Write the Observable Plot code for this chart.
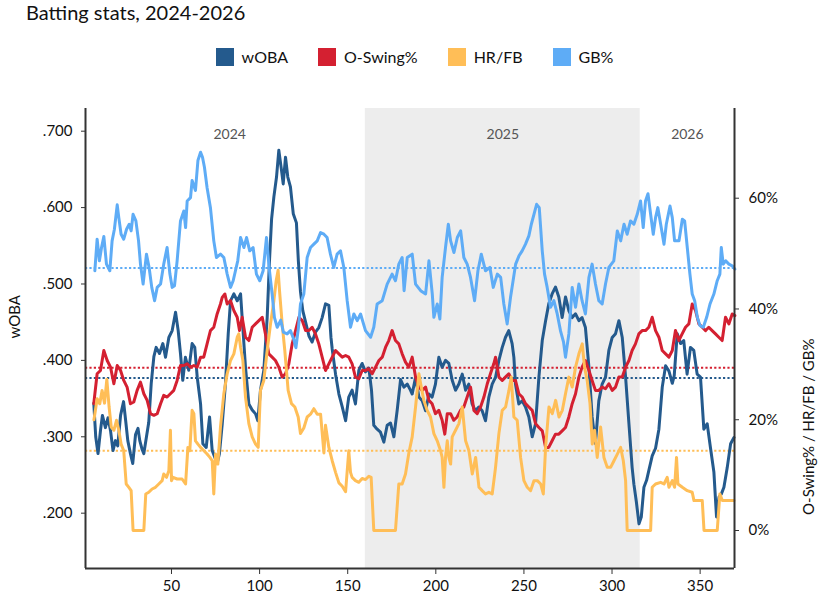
<!DOCTYPE html>
<html><head><meta charset="utf-8">
<script src="https://cdn.jsdelivr.net/npm/d3@7"></script>
<script src="https://cdn.jsdelivr.net/npm/@observablehq/plot@0.6"></script>
<style>
body{margin:0;background:#fff;font-family:Lato,sans-serif;width:826px;}
#title{position:relative;height:30px;}
#title span{position:absolute;left:26px;top:2px;font-size:20px;line-height:20px;color:#111;white-space:nowrap}
#legend{position:relative;height:50px;}
#legend .row{position:absolute;left:0;right:0;top:17.7px;display:flex;justify-content:center;gap:30px;padding-left:3px}
.item{display:flex;align-items:center;gap:8px;font-size:16px;line-height:18px;color:#111}
.sw{width:18px;height:18px;display:inline-block}
</style></head><body>
<div id="title"><span>Batting stats, 2024-2026</span></div>
<div id="legend"><div class="row" id="legendRow"></div></div>
<div id="chart"></div>
<script>
// ---------- data ----------
const seriesNames = ["wOBA", "O-Swing%", "HR/FB", "GB%"];
const seriesColors = ["#245a8d", "#d42031", "#ffbe57", "#5eacf6"];

const seasons = ["2024", "2025", "2026"];
const seasonStart = [6, 160, 316];
const seasonEnd = [160, 316, 369.5];
const shadedSeasons = ["2025"];

const xDomain = [1.2, 369.5];
const yDomain = [0.1276, 0.7297];      // wOBA (left axis)
const pctDomain = [-6.86, 76.2];       // percent (right axis)
const xTicks = [50, 100, 150, 200, 250, 300, 350];
const wobaTicks = [0.2, 0.3, 0.4, 0.5, 0.6, 0.7];
const pctTicks = [0, 20, 40, 60];

const wobaAvg = 0.377;
const oswingAvg = 29.4;
const hrfbAvg = 14.4;
const gbAvg = 47.4;

const woba = [[5.9,.344],[7,.300],[8.3,.278],[9.7,.308],[10.8,.328],[12.5,.312],[14,.325],[15.4,.308],[16.8,.282],[18.2,.295],[19.5,.288],[21.1,.328],[22.8,.346],[24,.321],[25.2,.295],[26.7,.278],[28,.265],[29.6,.303],[31,.311],[32,.295],[33.4,.283],[34.3,.278],[35.8,.300],[37.1,.319],[38.5,.370],[40,.405],[41.3,.417],[43.2,.409],[45.1,.422],[46.6,.404],[48.5,.430],[50.4,.439],[52.3,.463],[53.8,.439],[55.1,.409],[56.4,.374],[57.9,.404],[59.8,.387],[61.7,.422],[63.2,.417],[64.6,.378],[66.5,.343],[67.8,.291],[69.7,.286],[71.6,.326],[73.1,.282],[74.6,.273],[75.9,.265],[77.2,.278],[78.8,.317],[80.6,.369],[82.2,.435],[83.5,.478],[85.4,.487],[87.3,.478],[89.2,.487],[90.1,.456],[92,.391],[93.9,.343],[95.8,.335],[97.7,.330],[99,.321],[100.5,.361],[102.4,.387],[104.3,.456],[105.6,.530],[106.8,.585],[108.1,.614],[109.6,.640],[110.9,.675],[112.2,.653],[113.4,.631],[114.7,.666],[116,.640],[117.5,.627],[119.1,.592],[120.9,.580],[122,.530],[123.2,.490],[124.5,.465],[126.1,.450],[128,.432],[129.8,.424],[131.7,.437],[133.6,.443],[135.5,.456],[137.4,.474],[139.3,.472],[140.5,.430],[141.2,.415],[143.1,.382],[145,.356],[146.9,.339],[148.8,.321],[150.6,.352],[152.5,.361],[154.4,.343],[156.3,.387],[158.2,.396],[160.1,.385],[162,.390],[163.5,.361],[164.8,.315],[166.7,.310],[168.6,.306],[170.5,.293],[172.4,.315],[174.3,.318],[176.2,.300],[178.1,.335],[180,.375],[181.9,.365],[183.8,.369],[185.6,.361],[186.6,.356],[188.5,.378],[190.4,.352],[192.3,.347],[194.2,.334],[196.1,.356],[197.9,.352],[199.8,.369],[201.7,.404],[203.6,.391],[205.5,.400],[207.4,.396],[209.3,.374],[211.2,.361],[213.1,.369],[215,.382],[216.9,.361],[218.7,.369],[220.6,.343],[222.5,.334],[224.4,.339],[226.3,.334],[228.2,.321],[230.1,.352],[232,.369],[233.9,.378],[235.8,.400],[237.7,.417],[239.5,.430],[241.4,.439],[243.3,.422],[244.3,.404],[245.2,.369],[247.1,.343],[249,.347],[250.9,.339],[252.8,.326],[254.7,.300],[256.6,.317],[258.5,.378],[260.4,.426],[262.3,.452],[264.1,.474],[266,.487],[267.9,.496],[269.8,.483],[271.7,.456],[273.6,.483],[275.5,.465],[277.4,.456],[279.3,.461],[281.2,.452],[283,.456],[284.9,.443],[286.9,.391],[288.7,.326],[290.6,.291],[292.5,.347],[294.4,.369],[296.3,.378],[298.2,.413],[300.1,.430],[302,.435],[303.9,.452],[305.8,.430],[307.7,.378],[309.6,.317],[311.4,.260],[312.4,.238],[313.8,.215],[315.3,.186],[316.6,.195],[318.1,.234],[319.6,.243],[320.9,.256],[322.8,.275],[324.7,.285],[326.6,.310],[328.5,.365],[330.4,.393],[332.3,.386],[334.2,.370],[335.3,.380],[337,.435],[338.9,.422],[340.7,.426],[342.6,.382],[344.5,.417],[346.4,.413],[348.3,.382],[350.2,.378],[352.1,.310],[354,.317],[355.9,.285],[357.8,.254],[359.3,.195],[360.7,.221],[362,.225],[363.5,.234],[365.4,.260],[367.3,.291],[369.2,.299]];

const oswing = [[5.9,22.9],[7.8,28.3],[9.7,28.9],[11.6,32.5],[13.5,30.7],[15.4,29.5],[17.3,26.5],[19.2,29.8],[21.1,28.9],[22.9,27.1],[24.8,25.9],[26.7,22.9],[28.6,23.2],[30.5,25.3],[32.4,26.8],[34.3,24.7],[36.2,23.5],[38.1,21.1],[40,20.8],[41.9,21.1],[43.8,22.9],[45.6,24.4],[47.5,24.1],[49.4,24.7],[51.3,25.3],[53.2,27.1],[55.1,29.8],[57,29.8],[58.9,30.1],[60.8,29.5],[62.7,29.8],[64.6,29.5],[66.5,31.3],[68.3,31.3],[70.2,33.7],[72.1,36.1],[74,36.7],[75.9,39.1],[77.8,40.9],[78.8,42.1],[80.3,42.7],[81.6,40.9],[83.5,41.5],[85.4,39.7],[87.3,38.5],[88.6,36.1],[90.1,38.5],[92,34.9],[93.9,34.3],[95.8,36.7],[97.7,37.3],[99.6,37.9],[101.5,38.5],[103.3,35.5],[105.2,31.9],[107.1,31.3],[109,30.7],[110.9,29.5],[112.8,27.7],[114.7,28.3],[116.6,30.1],[118.5,33.7],[120.4,36.1],[122.3,38.5],[124.2,37.9],[126.1,36.1],[128,36.1],[129.8,36.7],[131.7,35.5],[133.6,33.7],[135.5,31.3],[137.4,28.9],[139.3,30.1],[141.2,31.3],[143.1,32.5],[145,31.9],[146.9,31.3],[148.8,31.6],[150.6,31.3],[152.5,30.1],[154.4,27.7],[156.3,27.4],[158.2,28.9],[160.1,28.9],[162,29.2],[163.9,28.3],[165.8,29.5],[167.7,30.7],[169.6,31.3],[171.5,33.1],[173.3,34.3],[175.2,36.1],[177.1,34.3],[179,33.7],[180.9,31.9],[182.8,30.4],[184.7,29.5],[186.6,31.3],[188.5,27.7],[190.4,25.9],[192.3,25.3],[194.2,25.9],[196.1,23.5],[197.9,22.9],[199.8,21.1],[201.7,21.7],[203.6,19.9],[205.1,17.4],[206.5,21.1],[208.4,21.1],[210.2,19.9],[212.1,20.5],[214,21.7],[215.9,22.3],[217.8,24.1],[219.7,25.9],[221.6,21.7],[223.5,21.1],[225.4,22.3],[227.3,24.1],[229.2,26.5],[231,28.3],[232.9,30.1],[233.9,31.3],[235.8,27.7],[237.7,27.1],[239.5,27.7],[241.4,28.3],[243.3,27.1],[245.2,27.1],[247.1,24.7],[249,24.1],[250.9,22.9],[252.8,22.3],[254.7,21.7],[256.6,19.3],[258.5,18.6],[260.4,18],[262.3,15],[264.1,15],[266,16.2],[267.9,17.4],[269.8,17.4],[271.7,18],[273.6,18.6],[275.5,20.5],[277.4,22.9],[279.3,24.7],[281.2,27.7],[283,29.5],[284.9,30.7],[286.9,28.9],[288.7,27.1],[290.6,25.3],[292.5,25.3],[294.4,25.9],[296.3,25.6],[298.2,26.5],[300.1,25.3],[302,25.9],[303.9,27.7],[305.8,27.7],[307.7,29.5],[309.6,30.7],[311.4,32.5],[313.3,33.7],[315.2,35.5],[317.1,36.1],[319,36.1],[320.9,36.7],[322.8,38.5],[324.7,36.1],[326.6,34.9],[328.5,32.5],[330.4,31.9],[332.3,31.3],[334.2,32.5],[336,36.1],[337.9,34.3],[339.8,35.5],[341.7,36.7],[343.6,37.3],[345.5,40.9],[347.4,39.7],[349.3,37.3],[351.2,36.7],[353.1,36.1],[354.9,36.7],[356.8,36.1],[358.7,35.5],[360.6,34.9],[362.5,34.3],[364.4,38.5],[366.3,37.3],[368.2,39.1],[369.7,38.8]];

const hrfb = [[6,20],[7.8,23.8],[9.3,22.9],[10.6,25.3],[12,23],[13.3,27.3],[14.6,22.3],[15.8,18.7],[17.3,18.1],[18.8,19.9],[20.1,18.1],[21.4,15.6],[22.9,14.4],[24.3,8.4],[25.8,7.8],[27.1,7.2],[28.2,0],[34.3,0],[35.4,6.6],[37.1,6.9],[39,7.5],[40.9,7.8],[42.8,8.4],[44.7,9],[45.6,10.2],[47.2,9.6],[48.5,10.8],[49.4,18.1],[50,9],[50.9,9.6],[53.2,9.3],[56,9.3],[58,8.4],[59.3,15],[60.4,14.4],[61.7,21.7],[62.7,21.1],[63.6,16.2],[65,15.6],[66.5,15],[68.4,14.4],[70.2,13.8],[71.8,13.2],[73.1,12.6],[74,6.6],[75,13.8],[76.3,12],[77.8,18.7],[79.7,24.7],[81.6,28.3],[83.5,30.7],[85.4,31.9],[87.3,34.9],[88.2,35.5],[89.2,33.1],[90.5,30.7],[92,24.1],[93.9,19.3],[95.8,16.9],[97.7,15.6],[99.2,15],[100.5,25.3],[102.4,27.1],[104.3,32.5],[106.2,37.3],[108.1,41.5],[109.4,45.1],[110.5,47],[111.3,43.3],[112.8,37.3],[114.3,32.5],[116.2,25.3],[118.1,22.9],[120,22.3],[121.9,20.5],[123.2,17.5],[125.1,18.5],[127,20.5],[128.9,21],[130.8,22],[132.7,21],[134.6,21],[136.5,14],[137.4,19],[139.3,15],[141.2,12.6],[143.1,10.5],[145,8.6],[146.9,8],[148.8,7],[150.6,14.4],[151.6,10.5],[152.5,9.6],[154.4,9],[156.3,8.7],[158.2,9.4],[160.1,9.2],[162,9.8],[163.3,9.6],[164.8,0],[177.1,0],[179,8.4],[180.9,8.4],[182.8,10.2],[184.7,14],[186.6,16.9],[188.5,22.3],[190.4,28.3],[191.4,26.5],[193.2,23.5],[195.1,21.7],[197,20.5],[198.9,17.5],[200.8,16.2],[202.7,14.4],[203.6,13.2],[204.6,7.8],[205.5,13.2],[206.5,16.2],[207.4,13.2],[208.4,12],[209.3,16.9],[211.2,18.1],[213.1,19.3],[215,22.3],[216.9,16.2],[218.8,14.4],[220.7,10.2],[222.6,13.2],[224.5,7.8],[226.3,7.2],[228.2,6.6],[230.1,6.9],[232,6.6],[233.9,11.4],[235.8,17.5],[237.7,21.7],[239.6,22.3],[241.5,25.3],[242.8,27.7],[244.3,20.5],[246.2,19.9],[248.1,13.2],[250,9],[251.9,7.8],[253.8,7.2],[255.7,9],[257.6,9],[259.5,8.4],[261,6.6],[262.3,15],[264.2,22.3],[266.1,21.1],[268,23.5],[269.9,20.5],[271.8,21.7],[273.6,24.7],[275.5,27.7],[277.4,25.9],[279.3,29.5],[281.2,31.9],[283.1,33.7],[284.4,29.5],[285.9,27.1],[287.5,22.9],[288.8,15.6],[290.1,18.1],[291.6,13.2],[293.5,18.7],[295.4,13.2],[297.3,11.4],[299.2,11.4],[301.1,12.6],[303,13.8],[304.9,15],[306.4,12.6],[307.7,9],[308.6,0],[321.9,0],[322.8,7.8],[324.7,8.4],[327.6,8.7],[329.5,8.4],[331.3,9.6],[332.3,7.8],[334.2,9],[335.5,7.8],[336.6,13.2],[337.4,8.4],[339.9,7.8],[342.7,7.2],[345.5,6.9],[346.5,5.4],[351.2,5.4],[352.2,0],[359.7,0],[361.2,6.6],[362.6,5.4],[369.2,5.4]];

const gb = [[6.5,46.9],[7.8,52.6],[9.1,48.7],[10.3,51.1],[11.6,53.1],[13.1,48.1],[15,46.9],[16.3,52.3],[17.6,54.4],[19.2,58.8],[20.1,56.5],[21.4,53.5],[22.9,52.6],[24.5,54.4],[26,55.3],[27.1,54.1],[28.2,57.1],[29.8,55.9],[31.3,52.3],[32.4,48.1],[33.9,44.5],[35.8,49.9],[37.3,47.5],[38.8,43.9],[40.4,41.5],[41.9,43.9],[43.8,44.5],[45.6,48.1],[47.5,51.1],[49.1,46.3],[50.4,43.9],[51.7,44.2],[53.2,48.7],[55.1,55.9],[57,57.7],[58,54.7],[58.9,59.5],[60.8,60.1],[61.7,63.2],[63.6,61.4],[65,66.8],[66.5,68.3],[67.6,67.4],[68.7,65.6],[70.2,61.9],[72.1,58.3],[74,52.3],[75.5,49.3],[77.8,49.9],[79.7,49.3],[81.6,46.3],[83.5,43.9],[85,45.1],[86.3,46.9],[87.6,48.7],[89.2,52.9],[91.1,51.1],[92.6,52.9],[94.4,50.5],[96.3,51.1],[98.2,46.3],[100.1,45.1],[102,46.9],[103.9,52.9],[105.4,47.5],[107.1,42.7],[108.4,38.5],[110,36.7],[112,38],[113.5,35.8],[115.6,35.5],[117.5,36.1],[119.4,34.5],[120.6,33],[122,36.5],[123.2,40.9],[125.1,42.7],[127,49.3],[128.9,51.1],[130.8,51.7],[132.7,52.3],[134.6,53.8],[136.5,53.5],[138.3,52.9],[140.2,49.9],[142.1,47.5],[144,49.9],[145.9,50.5],[147.8,47.5],[149.7,41.5],[151.6,36.7],[153.5,39.1],[155.4,37.9],[157.3,39.1],[160.1,36.1],[163,34.9],[164.8,36.7],[166.7,40.9],[169.6,41.5],[172.4,44.5],[175.2,46.3],[177.1,45.1],[179,48.1],[180.9,49.3],[182,43.3],[183.8,49.3],[186.6,49.9],[188.5,44.5],[191.4,43.3],[194.2,42.7],[196.1,48.7],[198,42.7],[198.9,38.5],[200.8,40.9],[202.3,38.2],[203.6,45.7],[205.5,51.1],[207.1,55.3],[208.4,52.3],[210.3,50.2],[212.2,52.9],[214.1,54.1],[215.9,49.3],[217.8,48.1],[219.7,45.7],[222,41.5],[223.9,46.9],[225.8,49.9],[228.2,46.9],[230.7,47.5],[232.6,43.9],[234.9,46.3],[236.8,45.7],[238.6,40.9],[240.5,37.3],[242.4,42.1],[245.3,48.1],[247.2,49.6],[249,50.5],[250.9,51.7],[252.8,53.2],[254.2,55.3],[255.7,57.1],[257.2,58.9],[258.7,58.3],[260.4,50.5],[261.7,46.3],[263.2,43.9],[265.1,40.3],[267,41.5],[268.9,39.1],[270.8,36],[272.5,34],[273.6,31.3],[275.5,35.5],[277.4,43.9],[279.3,40.3],[281.2,44.5],[283,41.5],[284.9,39.1],[286.9,45.7],[288.7,48.1],[290.6,44.5],[292.5,41.5],[294.4,40.9],[296.3,44.5],[298.2,47.5],[301,48.7],[303,54.1],[304.9,52.3],[306.8,55.3],[308.6,53.5],[310.5,55.9],[312.4,55.3],[314.3,57.1],[316.2,59.5],[317.7,54.7],[319,59.5],[320.4,60.8],[321.9,57.1],[323.4,53.5],[324.7,56.5],[326,58.3],[327.6,55.3],[329.5,51.7],[330.8,55.3],[332.9,58.6],[334.2,56.5],[335.5,52.3],[338,52.3],[339.9,56.2],[341.2,55.9],[342.7,51.1],[344.2,46.3],[345.5,42.7],[346.9,41.5],[348.4,38.5],[349.9,37],[351.8,36.7],[353.7,38.5],[355.6,40.9],[357.8,42.7],[359.7,45.1],[361.2,46.3],[362,51.1],[363.1,48.1],[364.5,48.7],[366.3,48.1],[368.2,47.8],[369.7,47.2]];

// ---------- helpers ----------
const toY = p => yDomain[0] + (p - pctDomain[0]) / (pctDomain[1] - pctDomain[0]) * (yDomain[1] - yDomain[0]);
const fromY = v => pctDomain[0] + (v - yDomain[0]) / (yDomain[1] - yDomain[0]) * (pctDomain[1] - pctDomain[0]);

// legend
const row = document.getElementById("legendRow");
seriesNames.forEach((n, i) => {
  const it = document.createElement("div");
  it.className = "item";
  it.innerHTML = `<span class="sw" style="background:${seriesColors[i]}"></span><span>${n}</span>`;
  row.appendChild(it);
});

const dash = {strokeDasharray: "2.2,2.2", strokeWidth: 2};
const lineOpts = {strokeWidth: 3, strokeLinejoin: "round", strokeLinecap: "round"};
const shaded = seasons.map((s, i) => ({s, x1: seasonStart[i], x2: seasonEnd[i]})).filter(d => shadedSeasons.includes(d.s));

const chart = Plot.plot({
  width: 826,
  height: 520,
  marginTop: 28,
  marginBottom: 32,
  marginLeft: 85,
  marginRight: 92,
  style: {fontFamily: "Lato, sans-serif", fontSize: "15px", color: "#222", background: "#fff"},
  x: {domain: xDomain},
  y: {domain: yDomain},
  marks: [
    Plot.rect(shaded, {x1: "x1", x2: "x2", fill: "#ededed"}),
    Plot.text(seasons, {x: (d, i) => (seasonStart[i] + seasonEnd[i]) / 2, frameAnchor: "top", dy: 21, fill: "#555", fontSize: 14}),
    Plot.ruleY([gbAvg], {y: d => toY(d), stroke: seriesColors[3], ...dash}),
    Plot.ruleY([oswingAvg], {y: d => toY(d), stroke: seriesColors[1], ...dash}),
    Plot.ruleY([wobaAvg], {stroke: seriesColors[0], ...dash}),
    Plot.ruleY([hrfbAvg], {y: d => toY(d), stroke: seriesColors[2], ...dash}),
    Plot.line(woba, {x: d => d[0], y: d => d[1], stroke: seriesColors[0], ...lineOpts}),
    Plot.line(oswing, {x: d => d[0], y: d => toY(d[1]), stroke: seriesColors[1], ...lineOpts}),
    Plot.line(hrfb, {x: d => d[0], y: d => toY(d[1]), stroke: seriesColors[2], ...lineOpts}),
    Plot.line(gb, {x: d => d[0], y: d => toY(d[1]), stroke: seriesColors[3], ...lineOpts}),
    Plot.ruleX([xDomain[0], xDomain[1]], {stroke: "#333", strokeWidth: 2}),
    Plot.ruleY([yDomain[0]], {stroke: "#333", strokeWidth: 2}),
    Plot.axisX(xTicks, {tickSize: 6, tickPadding: 6, label: null, stroke: "#333", fill: "#111"}),
    Plot.axisY(wobaTicks, {anchor: "left", tickSize: 4, tickPadding: 9, label: null, stroke: "#333", fill: "#111",
      tickFormat: d => d3.format(".3f")(d).replace(/^0/, "")}),
    Plot.axisY(pctTicks.map(toY), {anchor: "right", tickSize: 4, tickPadding: 10, label: null, stroke: "#333", fill: "#111",
      tickFormat: d => Math.round(fromY(d)) + "%"}),
    Plot.text(["wOBA"], {frameAnchor: "left", dx: -70, rotate: -90, fill: "#111", fontSize: 15}),
    Plot.text(["O-Swing% / HR/FB / GB%"], {frameAnchor: "right", dx: 75, rotate: -90, fill: "#111", fontSize: 15})
  ]
});
document.getElementById("chart").appendChild(chart);
</script>
</body></html>
